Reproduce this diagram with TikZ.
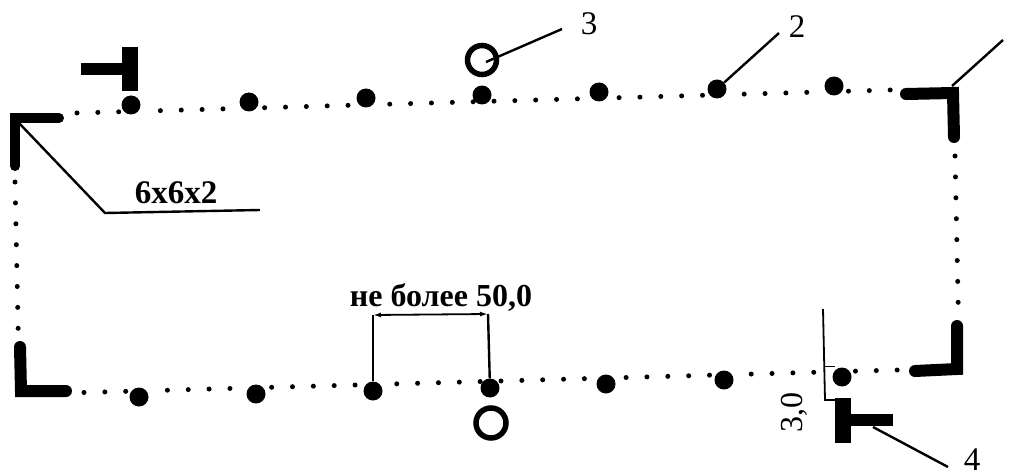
\documentclass[tikz,border=0pt]{standalone}
\usepackage{fontspec}
\usetikzlibrary{arrows.meta}
\setmainfont{Liberation Serif}
\tikzset{
  x=1pt,y=-1pt,
  smalldot/.style={circle,fill=black,inner sep=0pt,minimum size=5pt},
  bigdot/.style={circle,fill=black,inner sep=0pt,minimum size=19pt},
  ring/.style={circle,draw=black,line width=5.5pt,inner sep=0pt,minimum size=29pt},
  angleprofile/.style={line width=12pt,line cap=round,line join=miter},
  leader/.style={line width=2.4pt,black},
  thinline/.style={line width=1.8pt,black},
  numlabel/.style={inner sep=0pt,font=\fontsize{33}{33}\selectfont},
  boldlabel/.style={inner sep=0pt,font=\fontsize{33}{33}\selectfont\bfseries},
  dimlabel/.style={inner sep=0pt,font=\fontsize{32}{32}\selectfont},
}
\begin{document}
\begin{tikzpicture}
\useasboundingbox (0,0) rectangle (1025,476);
% small dots of the rows
\foreach \n in {0,1,2,4,5,6,7,9,10,11,12,13,15,16,17,18,19,20,21,22,23,24,26,27,28,29,30,32,33,34,35,37,38,39}{
  \node[smalldot] (t\n) at ({77+\n*20.85},{113-\n*0.59}) {};
  \node[smalldot] (b\n) at ({84+\n*20.85},{392.5-\n*0.577}) {};
}
\foreach \n in {0,...,7}{
  \node[smalldot] (l\n) at ({15+\n*0.45},{182+\n*20.9}) {};
  \node[smalldot] (r\n) at ({955+\n*0.45},{156+\n*20.9}) {};
}
% big dots
\foreach \i/\px/\py in {1/131/105,2/249/102,3/366/98,4/482/95,5/599/92,6/717/89,7/834/86}{
  \node[bigdot] (tb\i) at (\px,\py) {};
}
\foreach \i/\px/\py in {1/139/397,2/256/394,3/373/391,4/490/388,5/606/384,6/724/380,7/842/377}{
  \node[bigdot] (bb\i) at (\px,\py) {};
}
% rings
\node[ring] (ringtop) at (482,60) {};
\node[ring,minimum size=30pt] (ringbot) at (491,423) {};
% corner profiles
\draw[angleprofile,line width=10pt] (59,118) -- (15,118) -- (15,166);
\draw[angleprofile] (906,94) -- (953,93) -- (954,137);
\draw[angleprofile] (957,326) -- (957,369) -- (915,371);
\draw[angleprofile] (20,347) -- (21,391) -- (66,391);
% T profiles
\draw[line width=12pt] (81,69) -- (130,69);
\draw[line width=16pt] (130,47) -- (130,91);
\draw[line width=16pt] (843,398) -- (843,443);
\draw[line width=12pt] (843,420) -- (893,420);
% leaders
\coordinate (c3) at (562,29);
\coordinate (c2) at (779,33);
\coordinate (cr) at (1003,40);
\coordinate (c4) at (948,467);
\coordinate (c4s) at (873,427);
\coordinate (c3s) at (486,62);
\coordinate (crs) at (952,86);
\coordinate (a1) at (18,122);
\coordinate (a2) at (105,213);
\coordinate (a3) at (260,210);
\draw[leader] (c3s) -- (c3);
\draw[leader] (tb6) -- (c2);
\draw[leader] (crs) -- (cr);
\draw[leader] (c4s) -- (c4);
\draw[leader] (a1) -- (a2) -- (a3);
% 50,0 dimension
\coordinate (dl) at (373,315);
\coordinate (dr) at (488,314);
\draw[leader] (bb3) -- (dl);
\draw[leader] (bb4) -- (dr);
\draw[thinline,{Latex[length=8pt,width=5pt]}-{Latex[length=8pt,width=5pt]}] (dl) -- (dr);
% 3,0 dimension
\coordinate (e1) at (823,309);
\coordinate (e2) at (825,400);
\coordinate (e3) at (836,400);
\coordinate (e4) at (825,366);
\coordinate (e5) at (835,366);
\draw[thinline] (e1) -- (e2) -- (e3);
\draw[line width=1pt] (e4) -- (e5);
% labels
\node[numlabel] (n3) at (589,24) {3};
\node[numlabel] (n2) at (797,27) {2};
\node[numlabel] (n4) at (972,460) {4};
\node[boldlabel] (size) at (176,193) {6x6x2};
\node[dimlabel,font=\fontsize{32}{32}\selectfont\bfseries] (dim50) at (441,298) {не более 50,0};
\node[dimlabel,rotate=90] (dim3) at (794,412) {3,0};
\end{tikzpicture}
\end{document}
